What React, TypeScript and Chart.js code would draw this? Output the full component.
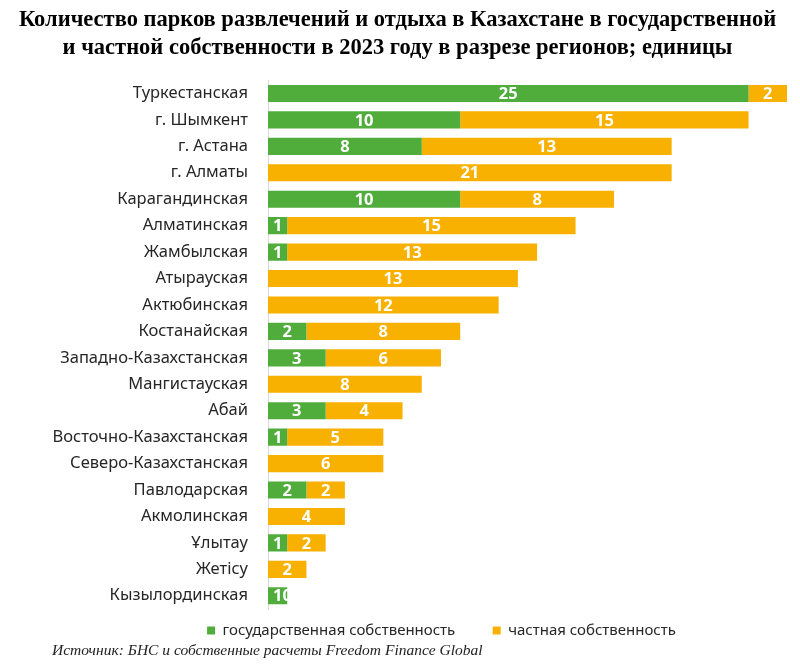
import React, { useEffect, useRef } from "react";
import { Chart, registerables } from "chart.js";

Chart.register(...registerables);

const titleLines = [
  "Количество парков развлечений и отдыха в Казахстане в государственной",
  "и частной собственности в 2023 году в разрезе регионов; единицы",
];
const sourceText = "Источник: БНС и собственные расчеты Freedom Finance Global";

const regions = [
  "Туркестанская",
  "г. Шымкент",
  "г. Астана",
  "г. Алматы",
  "Карагандинская",
  "Алматинская",
  "Жамбылская",
  "Атырауская",
  "Актюбинская",
  "Костанайская",
  "Западно-Казахстанская",
  "Мангистауская",
  "Абай",
  "Восточно-Казахстанская",
  "Северо-Казахстанская",
  "Павлодарская",
  "Акмолинская",
  "Ұлытау",
  "Жетісу",
  "Кызылординская",
];

const stateOwned: (number | null)[] = [
  25, 10, 8, null, 10, 1, 1, null, null, 2, 3, null, 3, 1, null, 2, null, 1, null, 1,
];
const privateOwned: (number | null)[] = [
  2, 15, 13, 21, 8, 15, 13, 13, 12, 8, 6, 8, 4, 5, 6, 2, 4, 2, 2, 0,
];

const seriesNames = ["государственная собственность", "частная собственность"];
const GREEN = "#50ad3c";
const ORANGE = "#f8b100";

const labelPlugin = {
  id: "barLabels",
  afterDatasetsDraw(chart: any) {
    const ctx = chart.ctx;
    ctx.save();
    ctx.fillStyle = "#ffffff";
    ctx.font = "bold 16.5px 'Noto Sans', sans-serif";
    ctx.textAlign = "center";
    ctx.textBaseline = "middle";
    chart.data.datasets.forEach((ds: any, di: number) => {
      const meta = chart.getDatasetMeta(di);
      meta.data.forEach((el: any, i: number) => {
        const v = ds.data[i];
        if (v === null || v === undefined) return;
        const cx = (el.x + el.base) / 2;
        ctx.fillText(String(v), cx, el.y + 1);
      });
    });
    ctx.restore();
  },
};

const sourcePlugin = {
  id: "sourceText",
  afterDraw(chart: any) {
    const ctx = chart.ctx;
    ctx.save();
    ctx.fillStyle = "#222222";
    ctx.font = "italic 15.5px 'Liberation Serif', serif";
    ctx.textAlign = "left";
    ctx.textBaseline = "middle";
    ctx.fillText(sourceText, 52, 651);
    ctx.restore();
  },
};

const legendShift = {
  id: "legendShift",
  afterLayout(chart: any) {
    const lg = chart.legend;
    if (lg) {
      lg.left += 44;
      lg.right += 44;
    }
  },
};

export default function App() {
  const ref = useRef<HTMLCanvasElement | null>(null);
  useEffect(() => {
    if (!ref.current) return;
    const chart = new Chart(ref.current, {
      type: "bar",
      data: {
        labels: regions,
        datasets: [
          {
            label: seriesNames[0],
            data: stateOwned,
            backgroundColor: GREEN,
            barPercentage: 0.65,
            categoryPercentage: 1,
          },
          {
            label: seriesNames[1],
            data: privateOwned,
            backgroundColor: ORANGE,
            barPercentage: 0.65,
            categoryPercentage: 1,
          },
        ],
      },
      plugins: [labelPlugin, sourcePlugin, legendShift],
      options: {
        indexAxis: "y",
        animation: false,
        responsive: false,
        maintainAspectRatio: false,
        layout: { padding: { left: 8, right: 13, top: 0, bottom: 16 } },
        scales: {
          x: {
            stacked: true,
            display: false,
            min: 0,
            max: 27,
          },
          y: {
            stacked: true,
            grid: { display: false, drawTicks: false },
            border: { display: true, color: "#d9d9d9", width: 1 },
            ticks: {
              color: "#262626",
              font: { family: "'Noto Sans', sans-serif", size: 16.5 },
              padding: 20,
            },
            afterFit(scale: any) {
              scale.width = 260;
            },
          },
        },
        plugins: {
          title: {
            display: true,
            text: titleLines,
            color: "#000000",
            font: { family: "'Liberation Serif', serif", size: 22.5, weight: "bold", lineHeight: 1.25 },
            padding: { top: 6, bottom: 18 },
          },
          legend: {
            display: true,
            position: "bottom",
            labels: {
              boxWidth: 8,
              boxHeight: 8,
              color: "#262626",
              padding: 14,
              font: { family: "'Noto Sans', sans-serif", size: 15 },
              generateLabels(chart: any) {
                const base = Chart.defaults.plugins.legend.labels.generateLabels(chart);
                return base.map((l: any, i: number) => ({
                  ...l,
                  text: i === 0 ? l.text + "\u00a0\u00a0\u00a0\u00a0\u00a0\u00a0" : l.text,
                  strokeStyle: "transparent",
                  lineWidth: 0,
                }));
              },
            },
          },
          tooltip: { enabled: false },
        },
      },
    });
    return () => chart.destroy();
  }, []);
  return (
    <div style={{ position: "fixed", left: 0, top: 0, width: 800, height: 664, background: "#fff" }}>
      <canvas ref={ref} width={800} height={664} style={{ width: 800, height: 664 }} />
    </div>
  );
}
